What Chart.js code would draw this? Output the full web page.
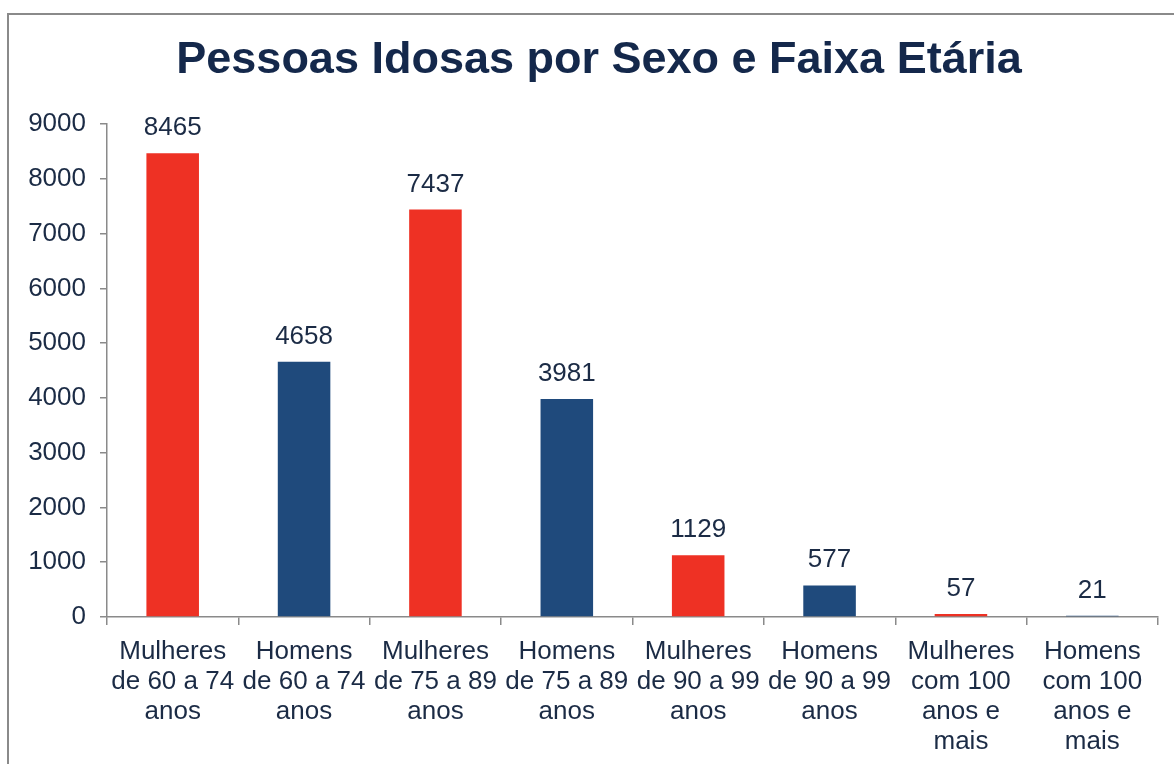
<!DOCTYPE html>
<html>
<head>
<meta charset="utf-8">
<script src="https://cdn.jsdelivr.net/npm/chart.js@4"></script>
<style>
    html, body { margin: 0; padding: 0; background: #fff; }
    #wrap { position: relative; width: 1174px; height: 764px; overflow: hidden; }
    #frame {
        position: absolute; left: 7px; top: 13px; width: 1200px; height: 800px;
        border-left: 2px solid #8a8a8a; border-top: 2px solid #8a8a8a;
    }
    canvas { position: absolute; left: 0; top: 0; }
</style>
</head>
<body>
<div id="wrap">
    <div id="frame"></div>
    <canvas id="chart" width="1174" height="764"></canvas>
</div>
<script>
// ============================================================
// Pessoas Idosas por Sexo e Faixa Etária
// ============================================================
const categories = [
    ['Mulheres', 'de 60 a 74', 'anos'],
    ['Homens', 'de 60 a 74', 'anos'],
    ['Mulheres', 'de 75 a 89', 'anos'],
    ['Homens', 'de 75 a 89', 'anos'],
    ['Mulheres', 'de 90 a 99', 'anos'],
    ['Homens', 'de 90 a 99', 'anos'],
    ['Mulheres', 'com 100', 'anos e', 'mais'],
    ['Homens', 'com 100', 'anos e', 'mais']
];
const pessoas = [8465, 4658, 7437, 3981, 1129, 577, 57, 21];
const barColors = ['#ee3124', '#1f4a7c', '#ee3124', '#1f4a7c', '#ee3124', '#1f4a7c', '#ee3124', '#1f4a7c'];
const yTicks = [0, 1000, 2000, 3000, 4000, 5000, 6000, 7000, 8000, 9000];

const TEXT = '#1b2b45';
const AXIS = '#8a8a8a';
const FONT = "'Liberation Sans', Arial, sans-serif";

// Value labels above every bar
const valueLabels = {
    id: 'valueLabels',
    afterDatasetsDraw(chart) {
        const ctx = chart.ctx;
        const meta = chart.getDatasetMeta(0);
        ctx.save();
        ctx.font = '26px ' + FONT;
        ctx.fillStyle = TEXT;
        ctx.textAlign = 'center';
        ctx.textBaseline = 'alphabetic';
        meta.data.forEach((bar, i) => {
            ctx.fillText(String(pessoas[i]), bar.x, bar.y - 18);
        });
        ctx.restore();
    }
};

new Chart(document.getElementById('chart'), {
    type: 'bar',
    data: {
        labels: categories,
        datasets: [{
            label: 'Pessoas',
            data: pessoas,
            backgroundColor: barColors,
            borderWidth: 0,
            barPercentage: 0.4,
            categoryPercentage: 1.0
        }]
    },
    options: {
        responsive: false,
        animation: false,
        // title is centred over the full width, so keep the padding symmetric-ish
        layout: { padding: { left: 24, right: 0, top: 0, bottom: -5 } },
        plugins: {
            legend: { display: false },
            tooltip: { enabled: false },
            title: {
                display: true,
                text: 'Pessoas Idosas por Sexo e Faixa Etária',
                color: '#14284b',
                font: { family: FONT, size: 45, weight: 'bold', lineHeight: 1.2 },
                padding: { top: 34, bottom: 36 }
            }
        },
        scales: {
            x: {
                grid: {
                    offset: true,
                    drawOnChartArea: false,
                    drawTicks: true,
                    tickLength: 8,
                    color: AXIS,
                    lineWidth: 1.5
                },
                border: { display: true, color: AXIS, width: 1.5 },
                ticks: {
                    color: TEXT,
                    font: { family: FONT, size: 26, lineHeight: 30 / 26 },
                    padding: 12,
                    maxRotation: 0,
                    minRotation: 0,
                    autoSkip: false
                }
            },
            y: {
                min: 0,
                max: 9000,
                afterFit(scale) { scale.width = 83; },
                afterBuildTicks(scale) { scale.ticks = yTicks.map(v => ({ value: v })); },
                grid: {
                    drawOnChartArea: false,
                    drawTicks: true,
                    tickLength: 7,
                    color: AXIS,
                    lineWidth: 1.5
                },
                border: { display: true, color: AXIS, width: 1.5 },
                ticks: {
                    color: TEXT,
                    font: { family: FONT, size: 26 },
                    padding: 14,
                    callback: (v) => String(v)
                }
            },
            // empty spacer on the right so the plot ends before the canvas edge
            spacer: {
                type: 'linear',
                position: 'right',
                display: true,
                afterFit(scale) { scale.width = 16; },
                grid: { display: false },
                border: { display: false },
                ticks: { display: false }
            }
        }
    },
    plugins: [valueLabels]
});
</script>
</body>
</html>
